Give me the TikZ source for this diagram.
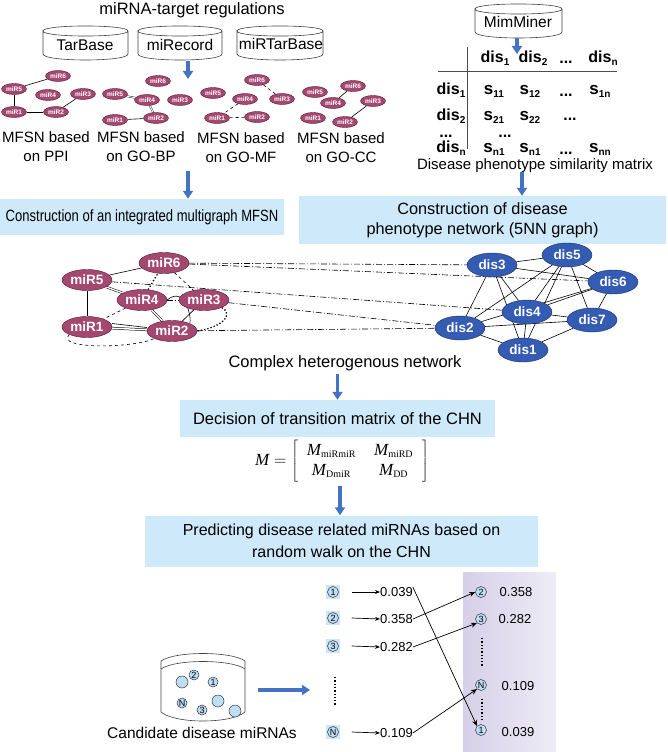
\documentclass[tikz,border=0pt]{standalone}
\usepackage{fontspec}
\setmainfont{Liberation Sans}
\newfontfamily\tnr{Liberation Serif}
\newfontfamily\condf[FakeStretch=0.80]{Liberation Sans}
\usetikzlibrary{arrows.meta,shapes.geometric}
\pgfdeclarelayer{bg}
\pgfsetlayers{bg,main}
\definecolor{boxblue}{RGB}{206,233,250}
\definecolor{arrblue}{RGB}{68,114,196}
\definecolor{mirfill}{RGB}{165,72,112}
\definecolor{mirdraw}{RGB}{80,20,50}
\definecolor{disfill}{RGB}{52,92,178}
\definecolor{disdraw}{RGB}{25,45,100}
\definecolor{shadeA}{RGB}{214,208,232}
\definecolor{shadeB}{RGB}{238,236,246}
\definecolor{cirfill}{RGB}{190,222,245}
\definecolor{sqblue}{RGB}{205,230,248}
\newcommand\fsz[1]{\fontsize{#1}{#1}\selectfont}
\newcommand\sbs[1]{\raisebox{-3pt}{\fsz{10}#1}}
\newcommand\dbcyl[4]{%
  \draw[cyl] (#1,#3) .. controls (#1,#3-6.7) and (#2,#3-6.7) .. (#2,#3)
    .. controls (#2,#3+6.7) and (#1,#3+6.7) .. (#1,#3) -- (#1,#4)
    .. controls (#1,#4+8) and (#2,#4+8) .. (#2,#4) -- (#2,#3);}
\newcommand\numc[4]{%
  \fill[sqblue] (#2-7,#3-7) rectangle (#2+7,#3+7);
  \node[numc] (#1) at (#2,#3) {#4};}
\begin{document}
\begin{tikzpicture}[x=1pt,y=-1pt,
  cyl/.style={draw=black!75, line width=0.6pt},
  bigarrow/.style={draw=arrblue, line width=3.2pt, -{Triangle[width=10pt,length=8pt]}},
  miRbig/.style={ellipse, draw=mirdraw, fill=mirfill, minimum width=50pt, minimum height=21pt, inner sep=0pt, text=white, font=\fsz{13.5}\bfseries},
  miRsmall/.style={ellipse, draw=mirdraw, fill=mirfill, minimum width=25pt, minimum height=11pt, inner sep=0pt, text=white, font=\fsz{6.5}\bfseries},
  disnode/.style={ellipse, draw=disdraw, fill=disfill, minimum width=50pt, minimum height=24pt, inner sep=0pt, text=white, font=\fsz{13.5}\bfseries},
  stepbox/.style={fill=boxblue, inner sep=0pt, align=center},
  numc/.style={circle, draw=black!80, fill=cirfill, minimum size=11pt, inner sep=0pt, line width=0.5pt, font=\fsz{9}},
  edge/.style={draw=black, line width=0.6pt},
  dd/.style={draw=black, line width=0.6pt, dash pattern=on 6pt off 2pt on 1pt off 2pt},
  mtx/.style={font=\fsz{16}\bfseries, inner sep=0pt},
  mdots/.style={font=\fsz{16}\bfseries, inner sep=0pt, text height=2.5pt, text depth=0pt},
  val/.style={font=\fsz{13}, inner sep=0pt}
]
\useasboundingbox (0,0) rectangle (668,752);

% ---------- top left ----------
\node[font=\fsz{16.5}] (title) at (192,10) {miRNA-target regulations};
\dbcyl{43}{128}{31}{54}
\dbcyl{138}{222}{31}{54}
\dbcyl{237}{323}{31}{54}
\node[font=\fsz{15.5}] (tarbase) at (85,45) {TarBase};
\node[font=\fsz{15.5}] (mirecord) at (180,45) {miRecord};
\node[font=\fsz{15.5}] (mirtar) at (281,44) {miRTarBase};
\coordinate (a1s) at (188,61);
\coordinate (a1e) at (188,79);
\draw[bigarrow] (a1s) -- (a1e);

% PPI
\node[miRsmall] (p6) at (58,76) {miR6};
\node[miRsmall] (p5) at (14,89) {miR5};
\node[miRsmall] (p4) at (48,95) {miR4};
\node[miRsmall] (p3) at (83,94) {miR3};
\node[miRsmall] (p1) at (14,112) {miR1};
\node[miRsmall] (p2) at (56,112) {miR2};
\begin{pgfonlayer}{bg}
\draw[edge] (p5) -- (p6);
\draw[edge] (p5) -- (p1);
\draw[edge] (p1) -- (p2);
\draw[edge] (p2) -- (p3);
\end{pgfonlayer}
% BP
\node[miRsmall] (b6) at (158,81) {miR6};
\node[miRsmall] (b5) at (115,94) {miR5};
\node[miRsmall] (b4) at (147,100) {miR4};
\node[miRsmall] (b3) at (180,100) {miR3};
\node[miRsmall] (b1) at (115,120) {miR1};
\node[miRsmall] (b2) at (156,118) {miR2};
\begin{pgfonlayer}{bg}
\draw[edge, double, double distance=0.9pt, line width=0.4pt] (b5) -- (b4);
\draw[edge, double, double distance=0.9pt, line width=0.4pt] (b4) -- (b2);
\draw[edge] (b1) -- (b2);
\end{pgfonlayer}
% MF
\node[miRsmall] (m6) at (257,80) {miR6};
\node[miRsmall] (m5) at (213,93) {miR5};
\node[miRsmall] (m4) at (245,99) {miR4};
\node[miRsmall] (m3) at (282,99) {miR3};
\node[miRsmall] (m1) at (217,118) {miR1};
\node[miRsmall] (m2) at (257,117) {miR2};
\begin{pgfonlayer}{bg}
\draw[edge, dashed] (m6) -- (m3);
\draw[edge, dashed] (m4) -- (m1);
\draw[edge, dashed] (m1) -- (m2);
\end{pgfonlayer}
% CC
\node[miRsmall] (c5) at (315,92) {miR5};
\node[miRsmall] (c6) at (353,86) {miR6};
\node[miRsmall] (c4) at (333,103) {miR4};
\node[miRsmall] (c3) at (373,101) {miR3};
\node[miRsmall] (c1) at (313,118) {miR1};
\node[miRsmall] (c2) at (345,122) {miR2};
\begin{pgfonlayer}{bg}
\draw[edge] (c6) -- (c4);
\draw[edge] (c2) -- (c3);
\end{pgfonlayer}

\node[font=\fontsize{15}{19}\selectfont, align=center] (l1) at (46,147) {MFSN based\\on PPI};
\node[font=\fontsize{15}{19}\selectfont, align=center] (l2) at (141,147) {MFSN based\\on GO-BP};
\node[font=\fontsize{15}{19}\selectfont, align=center] (l3) at (241,148) {MFSN based\\on GO-MF};
\node[font=\fontsize{15}{19}\selectfont, align=center] (l4) at (341,148) {MFSN based\\on GO-CC};

\node[stepbox, minimum width=284pt, minimum height=36pt, font=\fsz{16.3}\condf] (box1) at (142,217) {Construction of an integrated multigraph MFSN};
\coordinate (a2s) at (188,171);
\draw[bigarrow] (a2s) -- (box1.north -| a2s);

% ---------- top right ----------
\dbcyl{475}{562}{9}{32}
\node[font=\fsz{15.5}] (mimminer) at (518,22) {MimMiner};
\coordinate (a3s) at (517,38);
\coordinate (a3e) at (517,54);
\draw[bigarrow] (a3s) -- (a3e);
\coordinate (vt) at (467,47);
\coordinate (vb) at (467,149);
\coordinate (hl) at (438,71);
\coordinate (hr) at (617,71);
\draw[line width=0.6pt, draw=black!70] (vt) -- (vb);
\draw[line width=0.6pt, draw=black!70] (hl) -- (hr);
\node[mtx] (h1) at (495,58) {dis\sbs{1}};
\node[mtx] (h2) at (533,58) {dis\sbs{2}};
\node[mdots] (h3) at (566,62) {...};
\node[mtx] (h4) at (603,58) {dis\sbs{n}};
\node[mtx] (r1) at (451,90) {dis\sbs{1}};
\node[mtx] (r2) at (451,116) {dis\sbs{2}};
\node[mdots] (r3) at (446,136) {...};
\node[mtx] (r4) at (451,148) {dis\sbs{n}};
\node[mtx, font=\fsz{17}\bfseries] (s11) at (494,91) {s\sbs{11}};
\node[mtx, font=\fsz{17}\bfseries] (s12) at (530,91) {s\sbs{12}};
\node[mdots] (s13) at (566,95) {...};
\node[mtx, font=\fsz{17}\bfseries] (s1n) at (600,91) {s\sbs{1n}};
\node[mtx, font=\fsz{17}\bfseries] (s21) at (494,117) {s\sbs{21}};
\node[mtx, font=\fsz{17}\bfseries] (s22) at (530,117) {s\sbs{22}};
\node[mdots] (s23) at (570,119) {...};
\node[mdots] (s31) at (505,136) {...};
\node[mtx, font=\fsz{17}\bfseries] (sn1) at (494,149) {s\sbs{n1}};
\node[mtx, font=\fsz{17}\bfseries] (sn2) at (530,149) {s\sbs{n1}};
\node[mdots] (sn3) at (566,153) {...};
\node[mtx, font=\fsz{17}\bfseries] (snn) at (600,149) {s\sbs{nn}};
\node[font=\fsz{15}] (simlab) at (535,166) {Disease phenotype similarity matrix};

\node[stepbox, minimum width=367pt, minimum height=48pt, font=\fontsize{16.3}{20}\selectfont] (box2) at (482.5,220) {Construction of disease\\phenotype network (5NN graph)};
\coordinate (a4s) at (522,172);
\draw[bigarrow] (a4s) -- (box2.north -| a4s);

% ---------- heterogeneous network ----------
\node[miRbig] (R6) at (164,263) {miR6};
\node[miRbig] (R5) at (87,280) {miR5};
\node[miRbig] (R4) at (142,300) {miR4};
\node[miRbig] (R3) at (204,300) {miR3};
\node[miRbig] (R1) at (87,327) {miR1};
\node[miRbig] (R2) at (172,331) {miR2};

\node[disnode] (d3) at (492,265) {dis3};
\node[disnode] (d5) at (567,255) {dis5};
\node[disnode] (d6) at (613,282) {dis6};
\node[disnode] (d4) at (527,312) {dis4};
\node[disnode] (d7) at (592,320) {dis7};
\node[disnode] (d2) at (460,328) {dis2};
\node[disnode] (d1) at (523,350) {dis1};

\begin{pgfonlayer}{bg}
\draw[edge] (R5) -- (R6);
\draw[edge] (R5) -- (R1);
\draw[edge, double, double distance=1.3pt, line width=0.5pt] (R5) -- (R4);
\draw[edge, double, double distance=1.3pt, line width=0.5pt] (R4) -- (R2);
\draw[edge, double, double distance=1.5pt, line width=0.5pt] (R1) -- (R2);
\draw[edge] ([yshift=3.5pt]R1.east) -- ([yshift=3.5pt]R2.west);
\draw[edge] (R4.east) .. controls (185,285) and (192,318) .. (R2.north east);
\draw[edge, dashed] (R4) -- (R1);
\draw[draw=black, line width=1.3pt, dotted] (R4) -- (R6);
\draw[edge, dashed] (R6) -- (R3);
\draw[edge] (R3) -- (R2);
\draw[draw=black, line width=1.3pt, dotted] (R3.south east) .. controls (236,316) and (218,328) .. (R2.east);
\draw[edge, dashed] (R1.south west) .. controls (55,350) and (135,348) .. (R2.south west);
\draw[dd] (R4) -- (R3);
\draw[dd] (R6) -- (d3);
\draw[dd] (R6) -- (d6);
\draw[dd] (R5) -- (d4);
\draw[dd] (R3) -- (d2);
\draw[dd] (R2) -- (d2);
\foreach \a/\b in {d3/d5,d3/d6,d3/d4,d3/d2,d3/d1,d5/d6,d5/d2,d5/d4,d5/d7,d5/d1,d6/d2,d6/d4,d6/d7,d4/d1,d4/d7,d2/d7,d2/d1,d7/d1}
  \draw[edge] (\a) -- (\b);
\end{pgfonlayer}

\node[font=\fsz{16.5}] (chn) at (345,363) {Complex heterogenous network};
\node[stepbox, minimum width=315pt, minimum height=37pt, font=\fsz{16.5}] (box3) at (337.5,418.5) {Decision of transition matrix of the CHN};
\draw[bigarrow] (chn.south -| box3.north) -- (box3.north);

\node[font=\fontsize{17}{20}\selectfont\tnr, inner sep=0pt] (formula) at (342,461)
 {\setlength\arraycolsep{9pt}$\mbox{\itshape M} = \left[\begin{array}{cc}
   \mbox{\itshape M}_{\mbox{\fsz{10}miRmiR}} & \mbox{\itshape M}_{\mbox{\fsz{10}miRD}}\\
   \mbox{\itshape M}_{\mbox{\fsz{10}DmiR}} & \mbox{\itshape M}_{\mbox{\fsz{10}DD}}
 \end{array}\right]$};

\node[stepbox, minimum width=393pt, minimum height=51pt, font=\fontsize{16}{22}\selectfont] (box4) at (341.5,541) {Predicting disease related miRNAs based on\\random walk on the CHN};
\coordinate (a6s) at (340,486);
\draw[bigarrow] (a6s) -- (box4.north -| a6s);

% ---------- ranking ----------
\shade[left color=shadeA, right color=shadeB] (463,572) rectangle (556,752);

\draw[cyl] (161,661) .. controls (175,651) and (231,651) .. (245,661);
\draw[cyl] (161,669) .. controls (175,659) and (231,659) .. (245,669);
\draw[cyl] (161,661) -- (161,712) .. controls (175,724) and (231,724) .. (245,712) -- (245,661);
\node[numc, minimum size=12pt] (o1) at (182,682) {};
\node[numc, minimum size=10pt] (o2) at (194,675) {2};
\node[numc, minimum size=10pt] (o3) at (213,682) {1};
\node[numc, minimum size=10pt] (o4) at (182,703) {N};
\node[numc, minimum size=10pt] (o5) at (202,710) {3};
\node[numc, minimum size=12pt] (o6) at (218,701) {};
\node[numc, minimum size=12pt] (o7) at (235,711) {};
\node[font=\fsz{15.5}] (cand) at (202,733) {Candidate disease miRNAs};
\coordinate (a7s) at (258,690);
\coordinate (a7e) at (310,690);
\draw[bigarrow] (a7s) -- (a7e);

\numc{L1}{333}{592}{1}
\numc{L2}{333}{618}{2}
\numc{L3}{333}{646}{3}
\numc{LN}{333}{732}{N}
\node[val, anchor=west] (V1) at (380,592) {0.039};
\node[val, anchor=west] (V2) at (380,619) {0.358};
\node[val, anchor=west] (V3) at (380,647) {0.282};
\node[val, anchor=west] (VN) at (380,733) {0.109};
\foreach \n in {1,2,3,N}
  \draw[line width=0.7pt, -{Stealth[length=5pt,width=4pt]}] ([xshift=13pt]L\n.east) -- (V\n.west);
\coordinate (dl1) at (335,677);
\coordinate (dl2) at (335,706);
\draw[line width=1.3pt, dotted] (dl1) -- (dl2);

\node[numc] (P2) at (481,592) {2};
\node[numc] (P3) at (481,619) {3};
\node[numc] (PN) at (481,685) {N};
\node[numc] (P1) at (481,730) {1};
\node[val] (W2) at (516,592) {0.358};
\node[val] (W3) at (515,619) {0.282};
\node[val] (WN) at (518,686) {0.109};
\node[val] (W1) at (518,732) {0.039};
\coordinate (dr1) at (482,638);
\coordinate (dr2) at (482,666);
\coordinate (dr3) at (482,699);
\coordinate (dr4) at (482,721);
\draw[line width=1.3pt, dotted] (dr1) -- (dr2);
\draw[line width=1.3pt, dotted] (dr3) -- (dr4);

\draw[line width=0.7pt, -{Stealth[length=6pt,width=5pt]}] (V1.north east) -- (P1.north west);
\draw[line width=0.7pt, -{Stealth[length=6pt,width=5pt]}] (V2.east) -- (P2.west);
\draw[line width=0.7pt, -{Stealth[length=6pt,width=5pt]}] (V3.east) -- (P3.south west);
\draw[line width=0.7pt, -{Stealth[length=6pt,width=5pt]}] (VN.east) -- (PN.south west);
\end{tikzpicture}
\end{document}
